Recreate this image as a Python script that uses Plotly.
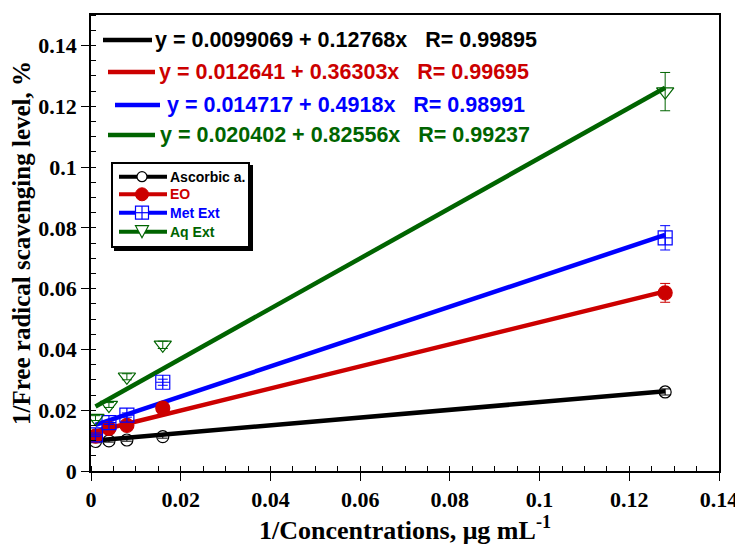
import plotly.graph_objects as go

# ---- data ----
inv_conc = [0.001, 0.004, 0.008, 0.016, 0.128]
series_names = ["Ascorbic a.", "EO", "Met Ext", "Aq Ext"]
ascorbic = [0.0097, 0.0099, 0.0102, 0.0113, 0.0260]
eo = [0.0115, 0.0140, 0.0150, 0.0207, 0.0586]
met_ext = [0.0119, 0.0159, 0.0184, 0.0292, 0.0767]
aq_ext = [0.0174, 0.0217, 0.0310, 0.0415, 0.1248]
ascorbic_err = [0.0004, 0.0004, 0.0004, 0.0005, 0.0010]
eo_err = [0.0005, 0.0005, 0.0006, 0.0008, 0.0031]
met_err = [0.0006, 0.0006, 0.0007, 0.0010, 0.0040]
aq_err = [0.0008, 0.0008, 0.0010, 0.0012, 0.0063]
intercepts = [0.0099069, 0.012641, 0.014717, 0.020402]
slopes = [0.12768, 0.36303, 0.4918, 0.82556]
r_values = ["0.99895", "0.99695", "0.98991", "0.99237"]
eq_labels = [
    "y = 0.0099069 + 0.12768x",
    "y = 0.012641 + 0.36303x",
    "y = 0.014717 + 0.4918x",
    "y = 0.020402 + 0.82556x",
]

colors = ["#000000", "#CC0000", "#0000FF", "#006400"]
symbols = ["circle-open", "circle", "square-cross-open", "triangle-down-open"]
msizes = [12, 14, 14, 15]
values = [ascorbic, eo, met_ext, aq_ext]
errors = [ascorbic_err, eo_err, met_err, aq_err]

# page offset of the plot div (default body margin)
OFF = 8
W, H = 735, 537
ML, MR, MT, MB = 83, 24, 7, 74
PW, PH = W - ML - MR, H - MT - MB


def px(xs):
    return (xs - OFF - ML) / PW


def py(ys):
    return (H - MB - (ys - OFF)) / PH


fig = go.Figure()

# fitted lines
for i in range(4):
    x0, x1 = min(inv_conc), max(inv_conc)
    fig.add_trace(go.Scatter(
        x=[x0, x1],
        y=[intercepts[i] + slopes[i] * x0, intercepts[i] + slopes[i] * x1],
        mode="lines", line=dict(color=colors[i], width=4.5),
        showlegend=False, hoverinfo="skip"))

# data points
for i in range(4):
    fig.add_trace(go.Scatter(
        x=inv_conc, y=values[i], mode="markers", name=series_names[i],
        marker=dict(symbol=symbols[i], size=msizes[i], color=colors[i],
                    line=dict(color=colors[i], width=1.2)),
        error_y=dict(type="data", array=errors[i], visible=True,
                     color=colors[i], thickness=1, width=5),
        showlegend=False))

# equation legend
rows = [(103, 152, 40, 153), (108, 155, 72, 157), (115, 160, 105, 165), (108, 155, 135, 158)]
for i, (lx0, lx1, ly, tx) in enumerate(rows):
    fig.add_shape(type="line", xref="paper", yref="paper",
                  x0=px(lx0), x1=px(lx1), y0=py(ly), y1=py(ly),
                  line=dict(color=colors[i], width=4.5))
    fig.add_annotation(xref="paper", yref="paper", x=px(tx), y=py(ly),
                       xanchor="left", yanchor="middle", showarrow=False,
                       text=f"{eq_labels[i]}   R= {r_values[i]}",
                       font=dict(family="Liberation Sans", size=21.5, color=colors[i], weight="bold"))

# symbol legend box (drawn by hand)
bx0, by0, bx1, by1 = 112, 163, 249, 247
fig.add_shape(type="rect", xref="paper", yref="paper",
              x0=px(bx0 + 3), x1=px(bx1 + 3), y0=py(by0 + 3), y1=py(by1 + 3),
              line=dict(color="black", width=2), fillcolor="black")
fig.add_shape(type="rect", xref="paper", yref="paper",
              x0=px(bx0), x1=px(bx1), y0=py(by0), y1=py(by1),
              line=dict(color="black", width=2), fillcolor="white")
leg_y = [176.7, 194.3, 212.7, 231.7]
mx = 142
for i, ly in enumerate(leg_y):
    c = colors[i]
    fig.add_shape(type="line", xref="paper", yref="paper",
                  x0=px(119), x1=px(167), y0=py(ly), y1=py(ly),
                  line=dict(color=c, width=4))
    if i == 0:
        r = 5
        fig.add_shape(type="circle", xref="paper", yref="paper",
                      x0=px(mx - r), x1=px(mx + r), y0=py(ly - r), y1=py(ly + r),
                      line=dict(color=c, width=1.2), fillcolor="white")
    elif i == 1:
        r = 6.5
        fig.add_shape(type="circle", xref="paper", yref="paper",
                      x0=px(mx - r), x1=px(mx + r), y0=py(ly - r), y1=py(ly + r),
                      line=dict(color=c, width=1), fillcolor=c)
    elif i == 2:
        r = 6.5
        fig.add_shape(type="rect", xref="paper", yref="paper",
                      x0=px(mx - r), x1=px(mx + r), y0=py(ly - r), y1=py(ly + r),
                      line=dict(color=c, width=1.2), fillcolor="white")
        fig.add_shape(type="line", xref="paper", yref="paper",
                      x0=px(mx), x1=px(mx), y0=py(ly - r), y1=py(ly + r),
                      line=dict(color=c, width=1.2))
        fig.add_shape(type="line", xref="paper", yref="paper",
                      x0=px(mx - r), x1=px(mx + r), y0=py(ly), y1=py(ly),
                      line=dict(color=c, width=1.2))
    else:
        path = (f"M {px(mx - 6.5)},{py(ly - 6)} L {px(mx + 6.5)},{py(ly - 6)} "
                f"L {px(mx)},{py(ly + 6)} Z")
        fig.add_shape(type="path", xref="paper", yref="paper", path=path,
                      line=dict(color=c, width=1.2), fillcolor="white")
    fig.add_annotation(xref="paper", yref="paper", x=px(167.5), y=py(ly),
                       xanchor="left", yanchor="middle", showarrow=False,
                       text=series_names[i],
                       font=dict(family="Liberation Sans", size=14, color=c, weight="bold"))

axis_common = dict(
    showline=True, linecolor="black", linewidth=1.5, mirror=True,
    showgrid=False, zeroline=False, automargin=False,
    ticks="outside", ticklen=8, tickwidth=1.2, tickcolor="black",
    tickfont=dict(family="Liberation Serif", size=22, color="black", weight="bold"),
)

fig.update_layout(
    width=W, height=H,
    margin=dict(l=ML, r=MR, t=MT, b=MB),
    paper_bgcolor="white", plot_bgcolor="white",
    xaxis=dict(range=[0, 0.14], dtick=0.02, tick0=0,
               minor=dict(dtick=0.005, ticks="inside", ticklen=5, tickcolor="black"),
               title=dict(text="1/Concentrations, μg mL<sup>-1</sup>", standoff=0,
                          font=dict(family="Liberation Serif", size=26, color="black", weight="bold")),
               **axis_common),
    yaxis=dict(range=[0, 0.15], dtick=0.02, tick0=0,
               minor=dict(dtick=0.005, ticks="inside", ticklen=5, tickcolor="black"),
               title=dict(text="1/Free radical scavenging level, %", standoff=3,
                          font=dict(family="Liberation Serif", size=25, color="black", weight="bold")),
               **axis_common),
    showlegend=False,
)

fig.write_html("out.html")
